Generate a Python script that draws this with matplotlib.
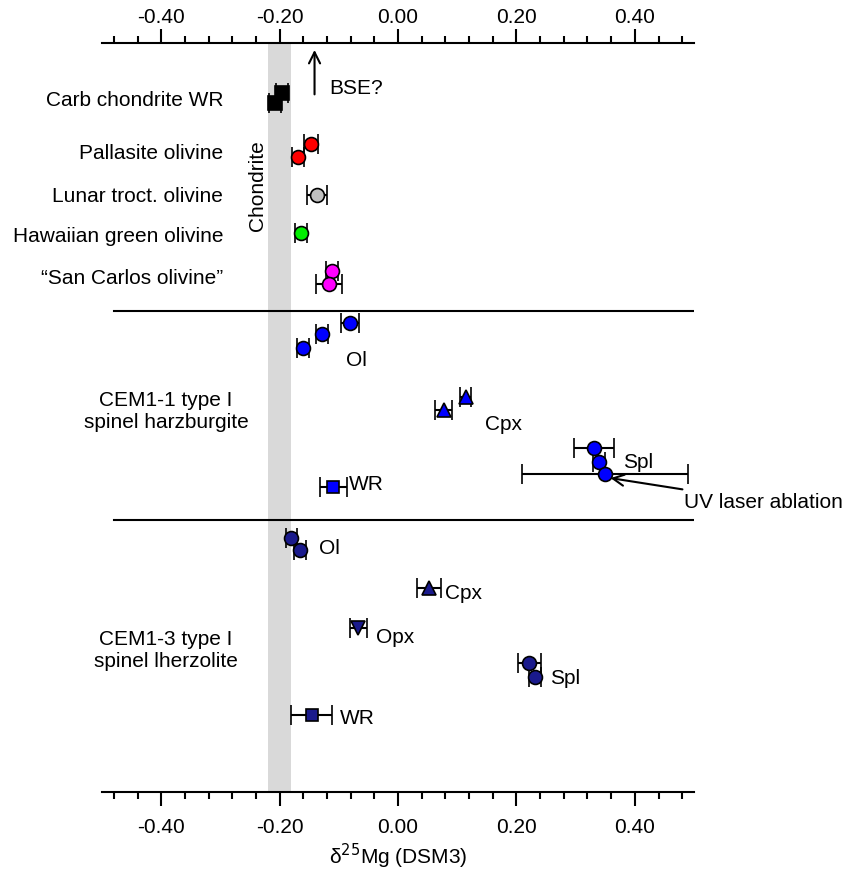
import numpy as np
import matplotlib
matplotlib.use("Agg")
from matplotlib import pyplot as plt
from matplotlib.ticker import MultipleLocator, FormatStrFormatter

plt.rcParams['font.family'] = ['Liberation Sans', 'DejaVu Sans']

# rows run top (43) to bottom (792), same scale as the plot frame
# reference materials
carb_x = [-0.196, -0.208]; carb_err = [0.010, 0.010]; carb_y = [93, 103]
pall_x = [-0.147, -0.169]; pall_err = [0.012, 0.010]; pall_y = [144, 157]
lunar_x = [-0.137]; lunar_err = [0.017]; lunar_y = [195]
hawaii_x = [-0.164]; hawaii_err = [0.010]; hawaii_y = [233]
sancarlos_x = [-0.112, -0.117]; sancarlos_err = [0.010, 0.022]; sancarlos_y = [271, 284]

# CEM1-1 type I spinel harzburgite
c11_ol_x = [-0.081, -0.129, -0.160]; c11_ol_err = [0.015, 0.010, 0.010]; c11_ol_y = [323, 334, 348]
c11_cpx_x = [0.114, 0.077]; c11_cpx_err = [0.010, 0.015]; c11_cpx_y = [397, 410]
c11_spl_x = [0.331, 0.340, 0.350]; c11_spl_err = [0.034, 0.010, 0.140]; c11_spl_y = [448, 462, 474]
c11_wr_x = [-0.109]; c11_wr_err = [0.022]; c11_wr_y = [487]

# CEM1-3 type I spinel lherzolite
c13_ol_x = [-0.180, -0.166]; c13_ol_err = [0.010, 0.010]; c13_ol_y = [538, 550]
c13_cpx_x = [0.052]; c13_cpx_err = [0.020]; c13_cpx_y = [588]
c13_opx_x = [-0.067]; c13_opx_err = [0.014]; c13_opx_y = [628]
c13_spl_x = [0.222, 0.232]; c13_spl_err = [0.020, 0.010]; c13_spl_y = [663, 677]
c13_wr_x = [-0.146]; c13_wr_err = [0.034]; c13_wr_y = [715]

ref_labels = ["Carb chondrite WR", "Pallasite olivine", "Lunar troct. olivine",
              "Hawaiian green olivine", "\u201cSan Carlos olivine\u201d"]
ref_label_y = [100, 153, 196, 236, 278]

chondrite_band = (-0.22, -0.18)
separators = [311, 520]

fig = plt.figure(figsize=(8.5, 8.81), dpi=100)
ax = fig.add_axes([0.12, 0.101, 0.6965, 0.850])

ax.axvspan(chondrite_band[0], chondrite_band[1], color="#d9d9d9", zorder=0, lw=0)
for s in separators:
    ax.axhline(s, xmin=0.021, xmax=1, color="black", lw=1.5, zorder=1)

def pts(x, err, y, marker, color, ms=10):
    ax.errorbar(x, y, xerr=err, fmt=marker, color="black", mfc=color, mec="black",
                mew=1.2, ms=ms, ecolor="black", elinewidth=1.5, capsize=7,
                capthick=1.5, zorder=3)

pts(carb_x, carb_err, carb_y, "s", "black", 10)
pts(pall_x, pall_err, pall_y, "o", "#ff0000")
pts(lunar_x, lunar_err, lunar_y, "o", "#c0c0c0")
pts(hawaii_x, hawaii_err, hawaii_y, "o", "#00ee00")
pts(sancarlos_x, sancarlos_err, sancarlos_y, "o", "#ff00ff")

blue = "#0000ff"
pts(c11_ol_x, c11_ol_err, c11_ol_y, "o", blue)
pts(c11_cpx_x, c11_cpx_err, c11_cpx_y, "^", blue)
pts(c11_spl_x, c11_spl_err, c11_spl_y, "o", blue)
pts(c11_wr_x, c11_wr_err, c11_wr_y, "s", blue, 8)

navy = "#1a1a8c"
pts(c13_ol_x, c13_ol_err, c13_ol_y, "o", navy)
pts(c13_cpx_x, c13_cpx_err, c13_cpx_y, "^", navy)
pts(c13_opx_x, c13_opx_err, c13_opx_y, "v", navy)
pts(c13_spl_x, c13_spl_err, c13_spl_y, "o", navy)
pts(c13_wr_x, c13_wr_err, c13_wr_y, "s", navy, 8)

fs = 15
for lab, yy in zip(ref_labels, ref_label_y):
    ax.text(-0.295, yy, lab, ha="right", va="center", fontsize=fs, clip_on=False)

ax.text(-0.237, 185, "Chondrite", rotation=90, ha="center", va="center", fontsize=fs)

ax.text(-0.392, 411, "CEM1-1 type I\nspinel harzburgite", ha="center", va="center",
        fontsize=fs, linespacing=1.2, clip_on=False)
ax.text(-0.392, 650, "CEM1-3 type I\nspinel lherzolite", ha="center", va="center",
        fontsize=fs, linespacing=1.2, clip_on=False)

# phase labels
ax.text(-0.088, 360, "Ol", ha="left", va="center", fontsize=fs)
ax.text(0.147, 424, "Cpx", ha="left", va="center", fontsize=fs)
ax.text(0.380, 462, "Spl", ha="left", va="center", fontsize=fs)
ax.text(-0.083, 484, "WR", ha="left", va="center", fontsize=fs)
ax.text(-0.133, 548, "Ol", ha="left", va="center", fontsize=fs)
ax.text(0.080, 593, "Cpx", ha="left", va="center", fontsize=fs)
ax.text(-0.038, 637, "Opx", ha="left", va="center", fontsize=fs)
ax.text(0.257, 678, "Spl", ha="left", va="center", fontsize=fs)
ax.text(-0.098, 718, "WR", ha="left", va="center", fontsize=fs)

ax.annotate("", xy=(-0.141, 47), xytext=(-0.141, 97),
            arrowprops=dict(arrowstyle="->", lw=1.5, color="black",
                            mutation_scale=20))
ax.text(-0.116, 88, "BSE?", ha="left", va="center", fontsize=fs)

ax.annotate("UV laser ablation", xy=(0.359, 478), xytext=(0.483, 502),
            ha="left", va="center", fontsize=fs, annotation_clip=False,
            arrowprops=dict(arrowstyle="->", lw=1.5, color="black",
                            mutation_scale=20, shrinkA=2, shrinkB=0))

ax.set_xlim(-0.5, 0.5)
ax.set_ylim(792, 43)
ax.set_yticks([])

top = ax.twiny()
top.set_xlim(ax.get_xlim())
for a, side, pad in [(ax, "bottom", 9), (top, "top", 2)]:
    for sp in ["left", "right", "top", "bottom"]:
        a.spines[sp].set_visible(sp == side)
    a.spines[side].set_linewidth(1.5)
    a.xaxis.set_major_locator(MultipleLocator(0.2))
    a.xaxis.set_minor_locator(MultipleLocator(0.04))
    a.xaxis.set_major_formatter(FormatStrFormatter("%.2f"))
    a.tick_params(axis="x", which="both", direction="out", labelsize=fs,
                  width=1.5, pad=pad)
    a.tick_params(axis="x", which="major", length=10)
    a.tick_params(axis="x", which="minor", length=5)

ax.set_xlabel("\u03b4$^{25}$Mg (DSM3)", fontsize=fs, labelpad=3)

plt.savefig("out.png", dpi=100)
